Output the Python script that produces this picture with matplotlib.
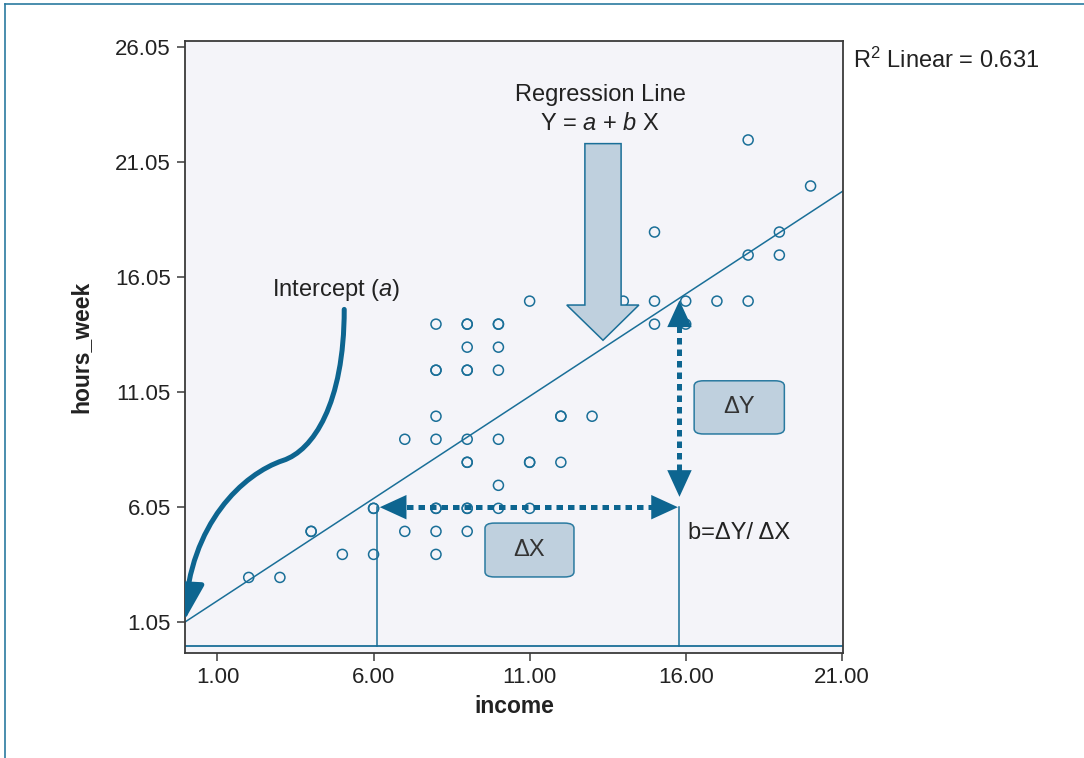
import numpy as np
import matplotlib.pyplot as plt
from matplotlib.patches import FancyBboxPatch, Polygon, FancyArrowPatch
from matplotlib.path import Path
from matplotlib.lines import Line2D

plt.rcParams['font.family'] = ['Liberation Sans', 'DejaVu Sans']
plt.rcParams['mathtext.fontset'] = 'custom'
plt.rcParams['mathtext.rm'] = 'Liberation Sans'
plt.rcParams['mathtext.it'] = 'Liberation Sans:italic'

#data (income vs hours_week)
income = [2, 3, 5, 6, 8, 4, 4, 7, 8, 9, 6, 6, 8, 8, 9, 9, 10, 11, 10,
          9, 9, 11, 11, 12, 7, 8, 9, 10, 8, 12, 12, 13, 8, 8, 9, 9, 10,
          9, 10, 8, 9, 9, 10, 10, 15, 16, 11, 14, 15, 16, 17, 18,
          18, 19, 15, 19, 20, 18]
hours_week = [3, 3, 4, 4, 4, 5, 5, 5, 5, 5, 6, 6, 6, 6, 6, 6, 6, 6, 7,
              8, 8, 8, 8, 8, 9, 9, 9, 9, 10, 10, 10, 10, 12, 12, 12, 12, 12,
              13, 13, 14, 14, 14, 14, 14, 14, 14, 15, 15, 15, 15, 15, 15,
              17, 17, 18, 18, 20, 22]

x_ticks = [1.00, 6.00, 11.00, 16.00, 21.00]
y_ticks = [1.05, 6.05, 11.05, 16.05, 21.05, 26.05]

#fitted line as drawn
intercept = 1.10
slope = 0.888
r2 = 0.631

#delta-x / delta-y construction
x0, x1 = 6.1, 15.8
y0 = 6.05

blue = '#1a6f98'
dark_blue = '#0d6590'
box_fill = '#bfd0de'
txt = '#222222'
fs = 17

fig = plt.figure(figsize=(10.84, 7.58), dpi=100)
ax = fig.add_axes([0.1704, 0.1389, 0.6076, 0.8074])
ax.set_facecolor('#f4f4f9')
ax.set_xlim(-0.05, 21.05)
ax.set_ylim(-0.27, 26.31)

for s in ax.spines.values():
    s.set_color('#3a3a3a')
    s.set_linewidth(1.3)

ax.set_xticks(x_ticks)
ax.set_xticklabels([f'{v:.2f}' for v in x_ticks])
ax.set_yticks(y_ticks)
ax.set_yticklabels([f'{v:.2f}' for v in y_ticks])
ax.tick_params(direction='out', length=6, width=1.1, color='#3a3a3a',
               labelsize=16, labelcolor=txt, pad=4)

ax.set_xlabel('income', fontsize=16.5, fontweight='bold', color=txt, labelpad=5)
ax.set_ylabel('hours_week', fontsize=16.5, fontweight='bold', color=txt, labelpad=16)

#reference line at zero and regression line
ax.axhline(0, color=blue, lw=1.3, zorder=2)
xl = np.array(ax.get_xlim())
ax.plot(xl, intercept + slope * xl, color=blue, lw=1.1, zorder=2)

ax.scatter(income, hours_week, s=52, facecolors='none', edgecolors=blue,
           linewidths=1.1, zorder=3)

#vertical guide lines
ax.plot([x0, x0], [0, y0], color=blue, lw=1.1, zorder=2)
ax.plot([x1, x1], [0, y0], color=blue, lw=1.1, zorder=2)

#dotted delta arrows
y_top = intercept + slope * x1
ax.plot([x0 + 0.6, x1 - 0.6], [y0, y0], color=dark_blue, lw=3.6,
        dashes=(1.3, 1.0), solid_capstyle='butt', zorder=4)
ax.plot([x1, x1], [y0 + 1.1, y_top - 0.9], color=dark_blue, lw=3.6,
        dashes=(1.3, 1.0), solid_capstyle='butt', zorder=4)

head = dict(arrowstyle='-|>,head_length=1.2,head_width=0.55', color=dark_blue,
            lw=0, mutation_scale=16, shrinkA=0, shrinkB=0)
for tip, tail in [((x0 + 0.1, y0), (x0 + 0.8, y0)),
                  ((x1 - 0.05, y0), (x1 - 0.8, y0)),
                  ((x1, y0 + 0.45), (x1, y0 + 1.4)),
                  ((x1, y_top - 0.1), (x1, y_top - 1.1))]:
    ax.add_patch(FancyArrowPatch(tail, tip, zorder=5, **head))

#delta boxes
for (bx, by, bw, bh, lab) in [(9.57, 3.02, 2.85, 2.34, 'ΔX'),
                              (16.27, 9.23, 2.89, 2.31, 'ΔY')]:
    ax.add_patch(FancyBboxPatch((bx, by), bw, bh,
                                boxstyle='round,pad=0,rounding_size=0.3',
                                mutation_aspect=0.74,
                                facecolor=box_fill, edgecolor='#2a7aa0',
                                lw=1.1, zorder=4))
    ax.text(bx + bw / 2, by + bh / 2, lab, ha='center', va='center',
            fontsize=fs, color='#333333', zorder=5)

ax.text(16.07, 4.92, 'b=ΔY/ ΔX', ha='left', va='center', fontsize=fs, color=txt)

#regression block arrow
block = Polygon([(12.77, 21.84), (13.93, 21.84), (13.93, 14.83), (14.5, 14.83),
                 (13.35, 13.3), (12.19, 14.83), (12.77, 14.83)],
                closed=True, facecolor=box_fill, edgecolor=blue, lw=1.1, zorder=6)
ax.add_patch(block)
ax.text(13.26, 23.96, 'Regression Line', ha='center', va='center',
        fontsize=fs, color=txt)
ax.text(13.26, 22.7, 'Y = $a$ + $b$ X', ha='center', va='center',
        fontsize=fs, color=txt)

#curved intercept arrow
verts = [(5.06, 14.64), (5.06, 10.53), (4.06, 8.51), (3.10, 8.08),
         (1.82, 7.5), (0.11, 5.34), (-0.05, 1.15)]
codes = [Path.MOVETO] + [Path.CURVE4] * 6
curve = FancyArrowPatch(path=Path(verts, codes),
                        arrowstyle='-|>,head_length=1.0,head_width=0.5',
                        mutation_scale=22, color=dark_blue, lw=3.6, zorder=5)
ax.add_patch(curve)
ax.text(4.81, 15.49, 'Intercept ($a$)', ha='center', va='center',
        fontsize=fs, color=txt)

fig.text(0.787, 0.921, f'R$^2$ Linear = {r2:.3f}', ha='left', va='center',
         fontsize=fs, color=txt)

#outer frame
fig.add_artist(Line2D([0.0046, 1.0], [0.9947, 0.9947], color='#2a7aa0', lw=1.2))
fig.add_artist(Line2D([0.0046, 0.0046], [0.0, 0.9947], color='#2a7aa0', lw=1.2))

fig.savefig('out.png', dpi=100)
